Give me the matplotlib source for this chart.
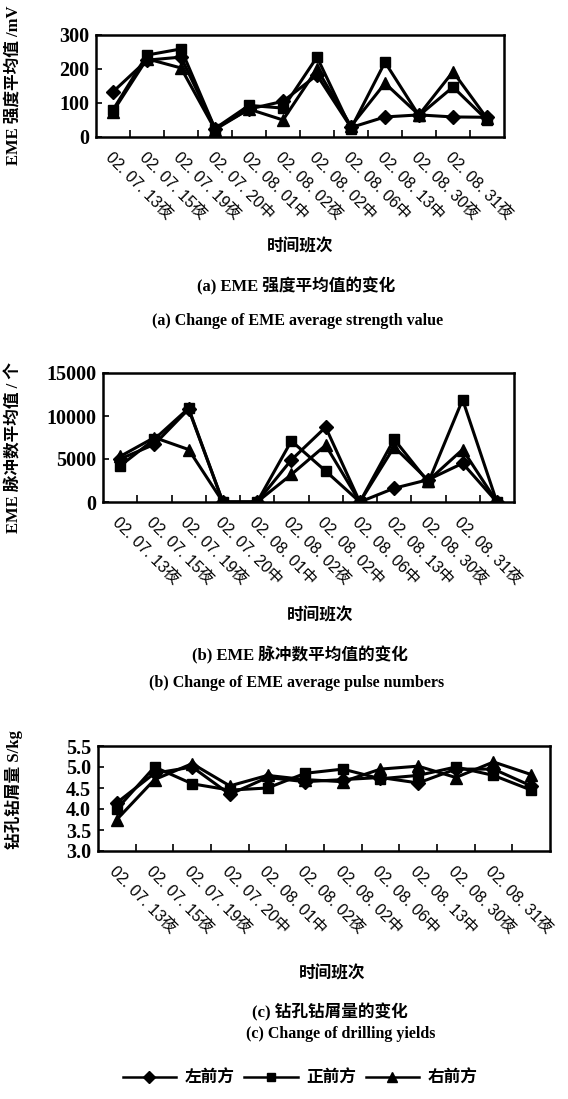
import numpy as np
import matplotlib.pyplot as plt
from matplotlib.ticker import FixedLocator, FormatStrFormatter

# 时间班次 (12 shifts, 11 labels printed)
dates = ['02. 07. 13夜', '02. 07. 15夜', '02. 07. 19夜', '02. 07. 20中', '02. 08. 01中',
         '02. 08. 02夜', '02. 08. 02中', '02. 08. 06中', '02. 08. 13中', '02. 08. 30夜',
         '02. 08. 31夜']
n_points = 12

# (a) EME 强度平均值 /mV
str_left = [133, 226, 235, 25, 82, 105, 182, 28, 59, 65, 59, 58]
str_front = [80, 241, 259, 25, 93, 85, 235, 25, 220, 63, 147, 50]
str_right = [75, 230, 203, 22, 82, 50, 200, 32, 158, 65, 192, 55]

# (b) EME 脉冲数平均值 / 个
pul_left = [5000, 6700, 10800, 0, 0, 4900, 8700, 0, 1600, 2600, 4500, 0]
pul_front = [4200, 7300, 10900, 0, 0, 7100, 3600, 0, 7300, 2300, 11900, 0]
pul_right = [5300, 7500, 6100, 0, 0, 3200, 6600, 0, 6400, 2500, 6100, 0]

# (c) 钻孔钻屑量 S/kg
yld_left = [4.15, 4.85, 5.0, 4.35, 4.75, 4.65, 4.7, 4.75, 4.62, 4.95, 4.95, 4.55]
yld_front = [4.0, 5.0, 4.6, 4.45, 4.5, 4.85, 4.95, 4.72, 4.8, 5.0, 4.8, 4.45]
yld_right = [3.75, 4.7, 5.08, 4.55, 4.8, 4.7, 4.65, 4.95, 5.02, 4.75, 5.12, 4.82]

series_names = ['左前方', '正前方', '右前方']
markers = ['D', 's', '^']
msizes = [7, 7.5, 8.5]

W, H = 568, 1099
fig = plt.figure(figsize=(W / 100, H / 100), dpi=100)

SERIF = ['Liberation Serif', 'Noto Sans CJK SC']
SANS = ['Liberation Sans', 'Noto Sans CJK SC']
CJK = ['Noto Sans CJK SC', 'Liberation Serif']


def px_axes(l, t, r, b):
    return fig.add_axes([l / W, 1 - b / H, (r - l) / W, (b - t) / H])


def ftext(x, y, s, **kw):
    fig.text(x / W, 1 - y / H, s, ha='center', va='center', **kw)


def draw(ax, data, ylim, yticks, fmt=None):
    x = np.arange(n_points)
    for vals, m, ms in zip(data, markers, msizes):
        ax.plot(x, vals, color='black', lw=2.2, marker=m, ms=ms,
                mfc='black', mec='black')
    ax.set_xlim(-0.5, n_points - 0.5)
    ax.set_ylim(*ylim)
    ax.set_yticks(yticks)
    if fmt:
        ax.yaxis.set_major_formatter(FormatStrFormatter(fmt))
    ax.set_xticks(np.arange(len(dates)))
    ax.set_xticklabels(dates, rotation=-45, ha='left', va='top',
                       rotation_mode='anchor', fontsize=11.5, family=SANS)
    ax.xaxis.set_minor_locator(FixedLocator(np.arange(0.5, n_points - 1, 1.0)))
    ax.tick_params(axis='x', which='major', length=0, pad=9)
    ax.tick_params(axis='x', which='minor', direction='in', length=5, width=1.2)
    ax.tick_params(axis='y', direction='in', length=4, width=1.2, pad=5)
    for lab in ax.get_yticklabels():
        lab.set_family(SERIF)
        lab.set_fontweight('bold')
        lab.set_fontsize(14.5)
    for sp in ax.spines.values():
        sp.set_linewidth(1.8)
    return ax


ax1 = px_axes(96, 35, 504, 137)
draw(ax1, [str_left, str_front, str_right], (0, 300), [0, 100, 200, 300])

ax2 = px_axes(103, 373, 514, 502)
draw(ax2, [pul_left, pul_front, pul_right], (0, 15000), [0, 5000, 10000, 15000])

ax3 = px_axes(98, 746, 550, 851)
draw(ax3, [yld_left, yld_front, yld_right], (3.0, 5.5),
     [3.0, 3.5, 4.0, 4.5, 5.0, 5.5], fmt='%.1f')

# y labels
ftext(14, 85, 'EME 强度平均值 /mV', rotation=90, fontsize=12, fontweight='bold', family=SERIF)
ftext(14, 447, 'EME 脉冲数平均值 / 个', rotation=90, fontsize=12, fontweight='bold', family=SERIF)
ftext(14, 790, '钻孔钻屑量 S/kg', rotation=90, fontsize=12, fontweight='bold', family=SERIF)

# x labels and captions
ftext(300, 246, '时间班次', fontsize=12, fontweight='bold', family=CJK)
ftext(296, 286, '(a) EME 强度平均值的变化', fontsize=12, fontweight='bold', family=SERIF)
ftext(298, 321, '(a) Change of EME average strength value', fontsize=11.5, fontweight='bold', family=SERIF)

ftext(320, 615, '时间班次', fontsize=12, fontweight='bold', family=CJK)
ftext(300, 655, '(b) EME 脉冲数平均值的变化', fontsize=12, fontweight='bold', family=SERIF)
ftext(297, 683, '(b) Change of EME average pulse numbers', fontsize=11.5, fontweight='bold', family=SERIF)

ftext(332, 973, '时间班次', fontsize=12, fontweight='bold', family=CJK)
ftext(330, 1012, '(c) 钻孔钻屑量的变化', fontsize=12, fontweight='bold', family=SERIF)
ftext(341, 1034, '(c) Change of drilling yields', fontsize=11.5, fontweight='bold', family=SERIF)

# legend
handles = [plt.Line2D([], [], color='black', lw=1.8, marker=m, ms=ms * 0.85)
           for m, ms in zip(markers, msizes)]
leg = fig.legend(handles, series_names, loc='center', bbox_to_anchor=(300 / W, 1 - 1078 / H),
                 ncol=3, frameon=False, handlelength=3.2, columnspacing=0.6,
                 handletextpad=0.5, prop={'family': CJK, 'weight': 'bold', 'size': 12})

fig.savefig('out.png', dpi=100)
